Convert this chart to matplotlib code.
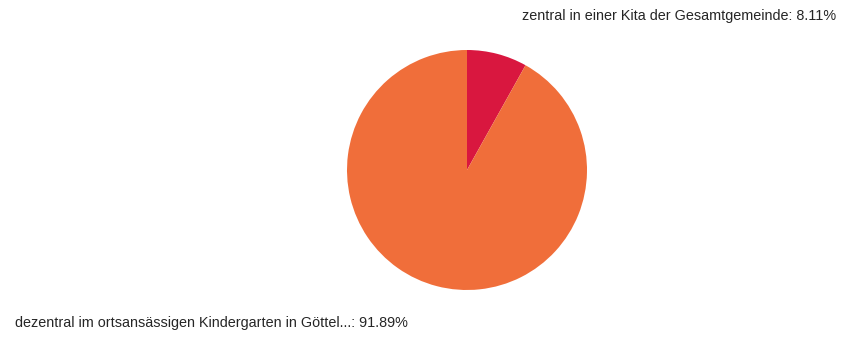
import matplotlib
matplotlib.use("Agg")
import matplotlib.pyplot as plt

# pie data
labels = ["zentral in einer Kita der Gesamtgemeinde",
          "dezentral im ortsansässigen Kindergarten in Göttel..."]
shares = [8.11, 91.89]
colors = ["#d9173f", "#f06e3a"]

plt.rcParams['font.family'] = ['Liberation Sans', 'DejaVu Sans']

fig = plt.figure(figsize=(8.49, 3.38), dpi=100)
ax = fig.add_axes([0, 0, 1, 1])

ax.pie(shares, colors=colors, startangle=90, counterclock=False,
       center=(467, 168), radius=120, frame=True)
ax.set_xlim(0, 849)
ax.set_ylim(0, 338)
ax.set_aspect("equal")
ax.axis("off")

ax.text(836, 322, f"{labels[0]}: {shares[0]:.2f}%", ha="right", va="center",
        fontsize=10.4, color="#262626")
ax.text(15, 15, f"{labels[1]}: {shares[1]:.2f}%", ha="left", va="center",
        fontsize=10.4, color="#262626")

fig.savefig("out.png", dpi=100)
